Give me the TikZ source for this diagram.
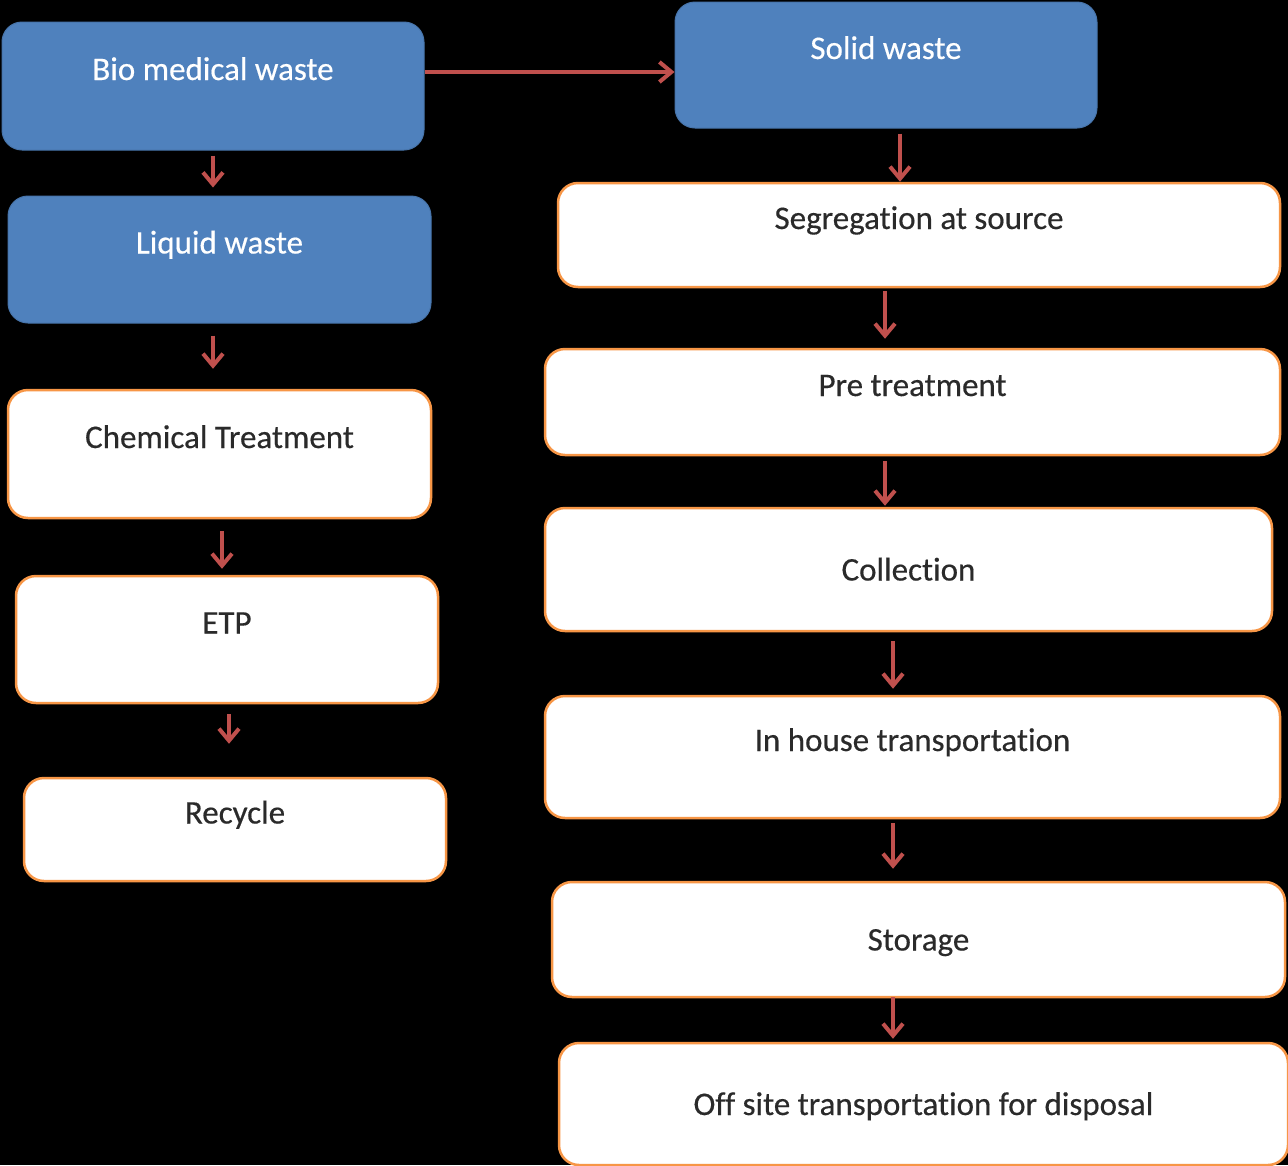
\documentclass[tikz,border=0pt]{standalone}
\usepackage{fontspec}
\setmainfont{Carlito}[Ligatures=NoCommon, FakeBold=0.4]
\usetikzlibrary{calc,arrows.meta}
\definecolor{boxblue}{HTML}{4F81BD}
\definecolor{boxedge}{HTML}{F79646}
\definecolor{arrred}{HTML}{C0504D}
\definecolor{txtgray}{HTML}{2A2A2A}
\tikzset{
  base/.style={rounded corners=20pt, inner sep=0pt, font=\fontsize{33}{38}\selectfont, anchor=center},
  bluebox/.style={base, fill=boxblue, draw=boxblue!90!black, line width=1pt, text=white},
  whitebox/.style={base, fill=white, draw=boxedge, line width=2.5pt, text=txtgray},
  toptext/.style={text height=25pt, text depth=37pt},
  midtext/.style={text height=25pt, text depth=3pt},
  arr/.style={draw=arrred, line width=3.5pt, -{Straight Barb[length=12pt,width=20pt,line width=4pt]}}
}
\begin{document}
\begin{tikzpicture}[x=1pt,y=-1pt]
\useasboundingbox[fill=black] (0,0) rectangle (1288,1165);
% left column
\node[bluebox, toptext, minimum width=422pt, minimum height=128pt] (bio) at (213,86) {Bio medical waste};
\node[bluebox, toptext, minimum width=423pt, minimum height=127pt] (liquid) at (219.5,259.5) {Liquid waste};
\node[whitebox, toptext, minimum width=423pt, minimum height=128pt] (chem) at (219.5,454) {Chemical Treatment};
\node[whitebox, toptext, minimum width=422pt, minimum height=127pt] (etp) at (227,639.5) {ETP};
\node[whitebox, toptext, minimum width=422pt, minimum height=103pt] (rec) at (235,829.5) {Recycle};
% right column
\node[bluebox, toptext, minimum width=422pt, minimum height=126pt] (solid) at (886,65) {Solid waste};
\node[whitebox, toptext, minimum width=722pt, minimum height=104pt] (seg) at (919,235) {Segregation at source};
\node[whitebox, toptext, minimum width=735pt, minimum height=106pt] (pre) at (912.5,402) {Pre treatment};
\node[whitebox, midtext, minimum width=727pt, minimum height=123pt] (coll) at (908.5,569.5) {Collection};
\node[whitebox, toptext, minimum width=735pt, minimum height=122pt] (inh) at (912.5,757) {In house transportation};
\node[whitebox, midtext, minimum width=733pt, minimum height=115pt] (sto) at (918.5,939.5) {Storage};
\node[whitebox, midtext, minimum width=729pt, minimum height=122pt] (off) at (923.5,1104) {Off site transportation for disposal};
% connectors
\draw[arr] ($(bio.east)+(0,-14)$) -- ($(bio.east -| solid.west)+(0,-14)$);
\draw[arr] ($(bio.south)+(0,5)$) -- ($(bio.south |- liquid.north)+(0,-8)$);
\draw[arr] ($(liquid.south)+(-6.5,12)$) -- ($(liquid.south |- chem.north)+(-6.5,-20)$);
\draw[arr] ($(chem.south)+(2.5,12)$) -- ($(chem.south |- etp.north)+(2.5,-6)$);
\draw[arr] ($(etp.south)+(2,10)$) -- ($(etp.south |- rec.north)+(2,-33)$);
\draw[arr] ($(solid.south)+(14,5)$) -- ($(solid.south |- seg.north)+(14,0)$);
\draw[arr] ($(seg.south)+(-34,3)$) -- ($(seg.south |- pre.north)+(-34,-9)$);
\draw[arr] ($(pre.south)+(-27.5,5)$) -- ($(pre.south |- coll.north)+(-27.5,-1)$);
\draw[arr] ($(coll.south)+(-15.5,9)$) -- ($(coll.south |- inh.north)+(-15.5,-6)$);
\draw[arr] ($(inh.south)+(-19.5,4)$) -- ($(inh.south |- sto.north)+(-19.5,-12)$);
\draw[arr] ($(sto.south)+(-25.5,-1)$) -- ($(sto.south |- off.north)+(-25.5,-3)$);
\end{tikzpicture}
\end{document}
